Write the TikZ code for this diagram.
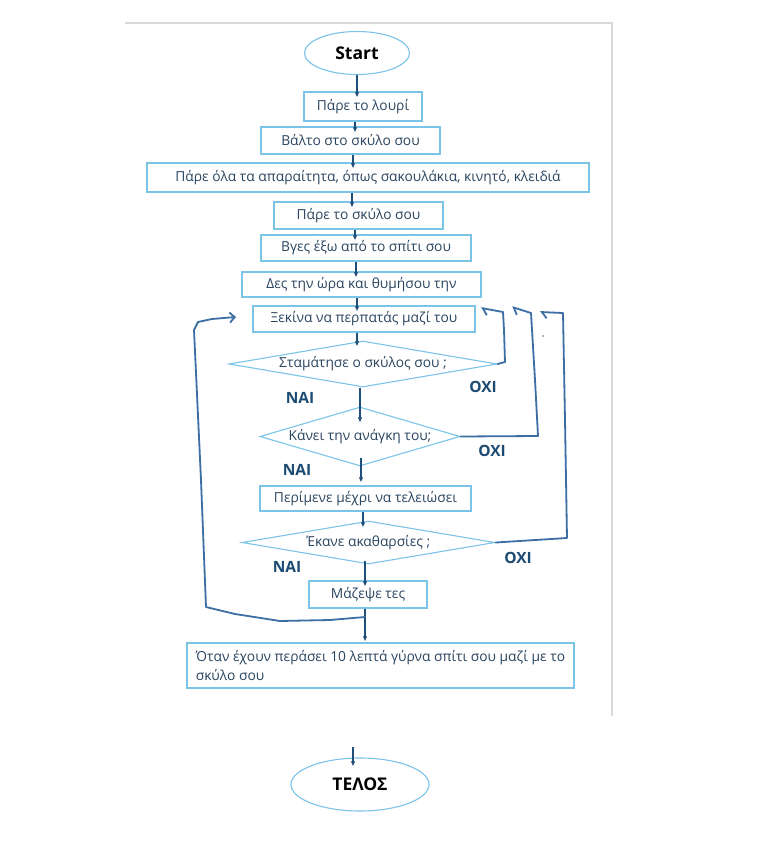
\documentclass[tikz,border=0pt]{standalone}
\usepackage{fontspec}
\setmainfont{Open Sans}
\usetikzlibrary{shapes.geometric,arrows.meta}
\definecolor{boxc}{HTML}{7CC3E8}
\definecolor{txtc}{HTML}{2A4560}
\definecolor{arrc}{HTML}{1F4E79}
\definecolor{loopc}{HTML}{3D6EA3}
\definecolor{lblc}{HTML}{1B4A72}
\definecolor{pagec}{HTML}{D9D9D9}
\begin{document}
\begin{tikzpicture}[x=1pt,y=-1pt,
  stepbox/.style={draw=boxc,line width=1.1pt,rectangle,inner sep=0pt,text=txtc,
    font=\fontsize{13.8}{16}\selectfont},
  decide/.style={draw=boxc,line width=1.1pt,diamond,inner sep=0pt,text=txtc,
    font=\fontsize{13.8}{16}\selectfont},
  term/.style={draw=boxc,line width=1.1pt,ellipse,inner sep=0pt,text=black,
    font=\bfseries\fontsize{17.5}{20}\selectfont},
  lbl/.style={text=lblc,font=\bfseries\fontsize{15.5}{17}\selectfont,inner sep=0pt},
  arr/.style={draw=arrc,line width=1.7pt,-{Latex[length=5pt,width=4.5pt]},shorten >=-6pt},
  loopline/.style={draw=loopc,line width=1.8pt,line cap=round,line join=round},
  backbarb/.style={-{Straight Barb[length=5pt,width=12pt,harpoon]}},
  fullbarb/.style={-{Straight Barb[length=5pt,width=10pt]}}
]
\useasboundingbox (0,0) rectangle (774,857);
\fill[white] (0,0) rectangle (774,857);
\draw[pagec,line width=1.8pt] (125,23) -- (612,23) -- (612,716);

\node[term,minimum width=105pt,minimum height=43pt] (start) at (357,53) {Start};
\node[stepbox,minimum width=118pt,minimum height=29pt] (b1) at (363,106.5) {Πάρε το λουρί};
\node[stepbox,minimum width=179pt,minimum height=27pt] (b2) at (350.5,140.5) {Βάλτο στο σκύλο σου};
\node[stepbox,minimum width=442pt,minimum height=29pt] (b3) at (368,177.5) {Πάρε όλα τα απαραίτητα, όπως σακουλάκια, κινητό, κλειδιά};
\node[stepbox,minimum width=169pt,minimum height=27pt] (b4) at (358.5,215.5) {Πάρε το σκύλο σου};
\node[stepbox,minimum width=210pt,minimum height=26pt] (b5) at (366,248) {Βγες έξω από το σπίτι σου};
\node[stepbox,minimum width=239pt,minimum height=25pt] (b6) at (361.5,284.5) {Δες την ώρα και θυμήσου την};
\node[stepbox,minimum width=222pt,minimum height=26pt] (b7) at (364,319) {Ξεκίνα να περπατάς μαζί του};
\node[decide,aspect=5.8,minimum width=268pt,minimum height=46pt] (d1) at (363,364) {Σταμάτησε ο σκύλος σου ;};
\node[decide,aspect=3.4,minimum width=200pt,minimum height=59pt] (d2) at (360,436.5) {Κάνει την ανάγκη του;};
\node[stepbox,minimum width=211pt,minimum height=25pt] (b8) at (365.5,498.5) {Περίμενε μέχρι να τελειώσει};
\node[decide,aspect=5.9,minimum width=253pt,minimum height=43pt] (d3) at (368.5,542.5) {Έκανε ακαθαρσίες ;};
\node[stepbox,minimum width=118pt,minimum height=27pt] (b9) at (368,594.5) {Μάζεψε τες};
\node[stepbox,minimum width=387pt,minimum height=45pt,align=left,
  font=\fontsize{13.8}{19}\selectfont] (b10) at (380.5,665.5)
  {Όταν έχουν περάσει 10 λεπτά γύρνα σπίτι σου μαζί με το\\σκύλο σου};
\node[term,minimum width=138pt,minimum height=53pt] (end) at (360,784.5) {ΤΕΛΟΣ};

% column coordinates for the straight arrows
\coordinate (c0) at (357,0);
\coordinate (c1) at (355,0);
\coordinate (c2) at (353,0);
\coordinate (c3) at (352,0);
\coordinate (c4) at (355,0);
\coordinate (c5) at (356,0);
\coordinate (c6) at (357,0);
\coordinate (c7) at (357,0);
\coordinate (c8) at (360,0);
\coordinate (c9) at (361,0);
\coordinate (c10) at (363,0);
\coordinate (c11) at (365,0);
\coordinate (c12) at (365,0);
\coordinate (freetop) at (353,747);

\draw[arr] (start.south -| c0) -- (b1.north -| c0);
\draw[arr] (b1.south -| c1) -- (b2.north -| c1);
\draw[arr] (b2.south -| c2) -- (b3.north -| c2);
\draw[arr] (b3.south -| c3) -- (b4.north -| c3);
\draw[arr] (b4.south -| c4) -- (b5.north -| c4);
\draw[arr] (b5.south -| c5) -- (b6.north -| c5);
\draw[arr] (b6.south -| c6) -- (b7.north -| c6);
\draw[arr] (b7.south -| c7) -- (d1.north -| c7);
\draw[arr,shorten >=-16pt] (d1.south -| c8) -- (d2.north -| c8);
\draw[arr,shorten <=-9pt,shorten >=3pt] (d2.south -| c9) -- (b8.north -| c9);
\draw[arr,shorten >=-7pt] (b8.south -| c10) -- (d3.north -| c10);
\draw[arr,shorten <=-4pt] (d3.south -| c11) -- (b9.north -| c11);
\draw[arr,shorten >=1pt] (b9.south -| c12) -- (b10.north -| c12);
\draw[arr,shorten >=-9pt] (freetop) -- (end.north -| freetop);

% labels
\node[lbl] (n1) at (300,398) {ΝΑΙ};
\node[lbl] (o1) at (483,387) {ΟΧΙ};
\node[lbl] (o2) at (492,451) {ΟΧΙ};
\node[lbl] (n2) at (297,470) {ΝΑΙ};
\node[lbl] (o3) at (518,558) {ΟΧΙ};
\node[lbl] (n3) at (287,567) {ΝΑΙ};

% hand-drawn loops
\coordinate (lstart) at (365,617);
\coordinate (ltip) at (236,317);
\draw[loopline,fullbarb] (lstart) -- (330,620) -- (280,621) -- (235,614) -- (206,607)
  -- (201,480) -- (194,330) -- (198,322) -- (212,319) -- (ltip);

\coordinate (r1tip) at (481,308);
\draw[loopline,backbarb] (d1.east) -- (505,362) -- (504,330) -- (503,312) -- (r1tip);
\coordinate (r2tip) at (512,307);
\draw[loopline,backbarb] (d2.east) -- (538,436) -- (535,380) -- (531,313) -- (r2tip);
\coordinate (r3tip) at (540,312);
\draw[loopline,backbarb] (d3.east) -- (567,538) -- (565,420) -- (563,313) -- (r3tip);
\fill[loopc] (543,336) circle (0.8pt);
\end{tikzpicture}
\end{document}
